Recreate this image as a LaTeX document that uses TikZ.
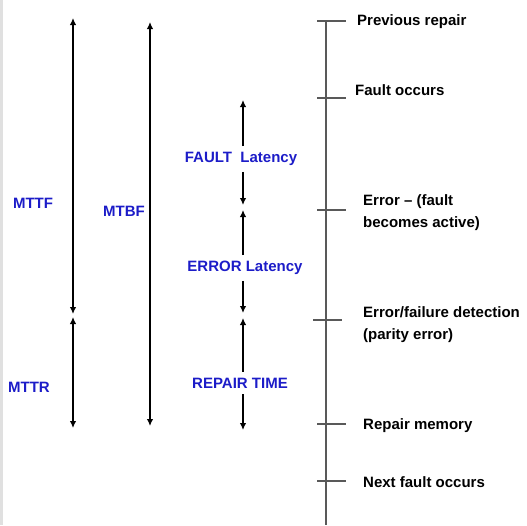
\documentclass[tikz,border=0pt]{standalone}
\usepackage{fontspec}
\setmainfont{Liberation Sans}
\usetikzlibrary{arrows.meta,positioning}
\definecolor{spanblue}{RGB}{28,28,200}
\tikzset{
	span/.style={line width=1.4pt,{Latex[length=7pt,width=6.5pt]}-{Latex[length=7pt,width=6.5pt]}},
	half/.style={line width=1.4pt,-{Latex[length=7pt,width=6.5pt]}},
	spanlabel/.style={text=spanblue,font=\fontsize{15}{22}\selectfont\bfseries,inner sep=6pt},
	eventlabel/.style={anchor=west,align=left,inner sep=0pt,font=\fontsize{15}{22}\selectfont\bfseries},
	timeline/.style={draw=black!65,line width=1.1pt}
}
\begin{document}
\begin{tikzpicture}[x=1pt,y=-1pt]
	\useasboundingbox (0,0) rectangle (527,525);
	\fill[black!12] (0,0) rectangle (3,525);
	\coordinate (ttop) at (326,21);
	\coordinate (tbot) at (326,525);
	\draw[timeline] (ttop) -- (tbot);
	\foreach \name/\y/\l/\r in {prev/21/9/20,fault/98/9/20,error/210/9/20,detect/320/13/16,repair/424/9/20,next/481/9/20}{
		\coordinate (\name) at (326,\y);
		\draw[timeline] ([xshift=-\l pt]\name) -- ([xshift=\r pt]\name);
	}
	\node[eventlabel] (prevtext) at (357,22) {Previous repair};
	\node[eventlabel] (faulttext) at (355,90) {Fault occurs};
	\node[eventlabel] (errortext) at (363,213) {Error -- (fault\\becomes active)};
	\node[eventlabel] (detecttext) at (363,325) {Error/failure detection\\(parity error)};
	\node[eventlabel] (repairtext) at (363,426) {Repair memory};
	\node[eventlabel] (nexttext) at (363,482) {Next fault occurs};
	\coordinate (mttftop) at (73,18);
	\coordinate (mttfbot) at (73,314);
	\coordinate (mttrtop) at (73,317);
	\coordinate (mttrbot) at (73,428);
	\coordinate (mtbftop) at (150,22);
	\coordinate (mtbfbot) at (150,426);
	\draw[span] (mttftop) -- (mttfbot);
	\draw[span] (mttrtop) -- (mttrbot);
	\draw[span] (mtbftop) -- (mtbfbot);
	\node[spanlabel] (mttf) at (33,203) {MTTF};
	\node[spanlabel] (mtbf) at (124,211) {MTBF};
	\node[spanlabel] (mttr) at (29,387) {MTTR};
	\coordinate (fl1) at (243,100);
	\coordinate (fl2) at (243,205);
	\coordinate (el1) at (243,210);
	\coordinate (el2) at (243,313);
	\coordinate (rt1) at (243,318);
	\coordinate (rt2) at (243,430);
	\node[spanlabel] (faultlat) at (241,159) {FAULT\ \ Latency};
	\node[spanlabel] (errorlat) at (245,268) {ERROR Latency};
	\node[spanlabel] (repairtime) at (240,383) {REPAIR TIME};
	\draw[half] (faultlat.north -| fl1) -- (fl1);
	\draw[half] (faultlat.south -| fl2) -- (fl2);
	\draw[half] (errorlat.north -| el1) -- (el1);
	\draw[half] (errorlat.south -| el2) -- (el2);
	\draw[half] (repairtime.north -| rt1) -- (rt1);
	\draw[half] (repairtime.south -| rt2) -- (rt2);
\end{tikzpicture}
\end{document}
